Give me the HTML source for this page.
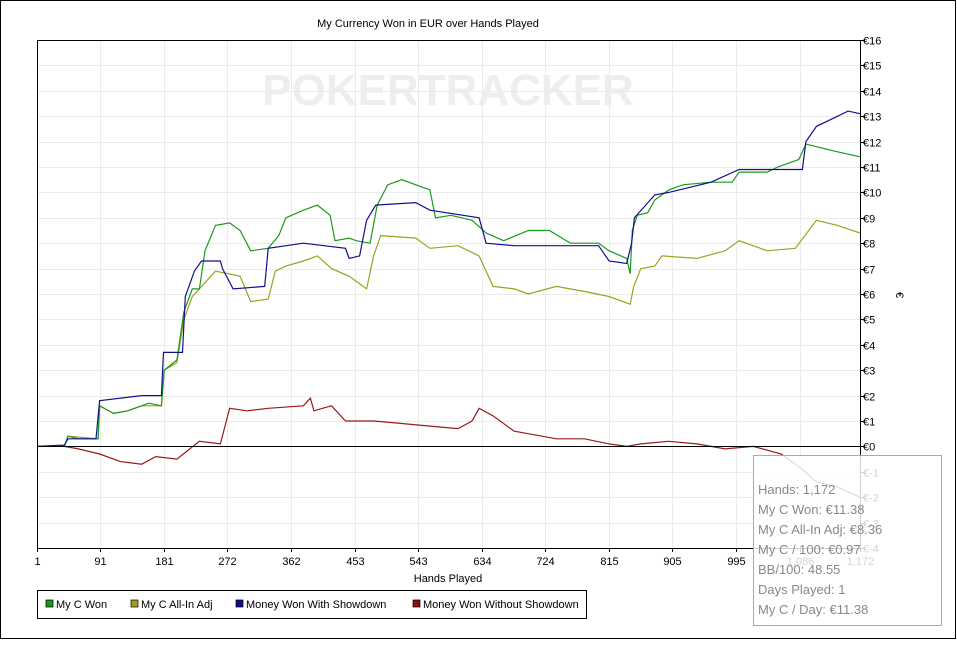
<!DOCTYPE html>
<html><head><meta charset="utf-8"><style>
body{margin:0;background:#fff;font-family:"Liberation Sans",sans-serif}
svg text{font-family:"Liberation Sans",sans-serif}
</style></head><body>
<svg id="c" width="957" height="640">
<rect x="0.5" y="0.5" width="955" height="638" fill="#fff" stroke="#000"/>
<text x="428" y="27" font-size="11" text-anchor="middle">My Currency Won in EUR over Hands Played</text>
<text x="448" y="105" font-size="44" fill="#eeeeee" text-anchor="middle" font-weight="bold">POKERTRACKER</text>
<g id="grid"></g><g id="series"></g><g id="axes"></g>
<rect x="37.5" y="40.5" width="823" height="508" fill="none" stroke="#000"/>
<text x="448" y="582" font-size="11" text-anchor="middle">Hands Played</text>
<text x="896" y="295" font-size="11" transform="rotate(90 896 295)" text-anchor="middle">€</text>
<g>
<rect x="37.5" y="590.5" width="549" height="28" fill="#fff" stroke="#000"/>
<rect x="46" y="600" width="7" height="7" fill="#1a9a1a" stroke="#000" stroke-width="0.7"/>
<text x="56" y="608" font-size="11">My C Won</text>
<rect x="131" y="600" width="7" height="7" fill="#a0a020" stroke="#000" stroke-width="0.7"/>
<text x="141" y="608" font-size="11">My C All-In Adj</text>
<rect x="236" y="600" width="7" height="7" fill="#10108f" stroke="#000" stroke-width="0.7"/>
<text x="246" y="608" font-size="11">Money Won With Showdown</text>
<rect x="413" y="600" width="7" height="7" fill="#8f1010" stroke="#000" stroke-width="0.7"/>
<text x="423" y="608" font-size="11">Money Won Without Showdown</text>
</g>
<g>
<rect x="753.5" y="455.5" width="188" height="170" fill="rgba(255,255,255,0.82)" stroke="#aaa"/>
<g font-size="13" fill="#888">
<text x="758" y="494">Hands: 1,172</text>
<text x="758" y="514">My C Won: €11.38</text>
<text x="758" y="534">My C All-In Adj: €8.36</text>
<text x="758" y="554">My C / 100: €0.97</text>
<text x="758" y="574">BB/100: 48.55</text>
<text x="758" y="594">Days Played: 1</text>
<text x="758" y="614">My C / Day: €11.38</text>
</g></g>
</svg>
<script>
const xTicks=[1,91,181,272,362,453,543,634,724,815,905,995,1086,1172];
const yTicks=[-4,-3,-2,-1,0,1,2,3,4,5,6,7,8,9,10,11,12,13,14,15,16];
const wonH=[1,40,45,60,88,90,110,130,150,160,178,182,200,210,222,232,240,255,275,290,305,330,345,355,380,400,418,425,445,455,475,485,500,520,540,560,568,590,620,640,665,700,730,760,800,815,840,845,848,855,870,880,900,920,960,990,1000,1040,1055,1085,1095,1110,1140,1172];
const wonV=[0,0,0.4,0.3,0.3,1.6,1.3,1.4,1.6,1.7,1.6,3.0,3.4,5.3,6.2,6.2,7.7,8.7,8.8,8.5,7.7,7.8,8.3,9.0,9.3,9.5,9.1,8.1,8.2,8.1,8.0,9.5,10.3,10.5,10.3,10.1,9.0,9.1,8.9,8.4,8.1,8.5,8.5,8.0,8.0,7.7,7.4,6.8,8.5,9.1,9.2,9.7,10.1,10.3,10.4,10.4,10.8,10.8,11.0,11.3,11.9,11.8,11.6,11.4];
const allinH=[1,40,45,88,90,110,130,150,178,182,200,210,222,232,245,255,290,305,330,340,355,380,400,420,445,470,480,490,540,560,600,630,650,680,700,740,780,815,845,850,860,880,890,940,980,1000,1040,1080,1110,1140,1172];
const allinV=[0,0,0.4,0.3,1.6,1.3,1.4,1.6,1.6,3.0,3.3,5.0,5.9,6.2,6.6,6.9,6.7,5.7,5.8,6.9,7.1,7.3,7.5,7.0,6.7,6.2,7.5,8.3,8.2,7.8,7.9,7.5,6.3,6.2,6.0,6.3,6.1,5.9,5.6,6.3,7.0,7.1,7.5,7.4,7.7,8.1,7.7,7.8,8.9,8.7,8.4];
const sdH=[1,40,45,85,90,150,178,181,208,212,225,235,262,265,280,325,330,380,440,445,460,470,483,540,560,630,640,680,800,815,840,847,851,880,900,960,1000,1090,1095,1110,1155,1172];
const sdV=[0,0.05,0.3,0.3,1.8,2.0,2.0,3.7,3.7,5.9,6.9,7.3,7.3,7.0,6.2,6.3,7.8,8.0,7.8,7.4,7.5,8.9,9.5,9.6,9.3,9.0,8.0,7.9,7.9,7.3,7.2,8.0,9.0,9.9,10.0,10.4,10.9,10.9,12.0,12.6,13.2,13.1];
const nsdH=[1,40,60,90,120,150,170,200,232,262,275,300,330,380,390,395,420,440,480,520,560,600,620,630,650,680,700,740,780,815,840,860,900,940,980,1020,1060,1090,1110,1140,1172];
const nsdV=[0,0,-0.1,-0.3,-0.6,-0.7,-0.4,-0.5,0.2,0.1,1.5,1.4,1.5,1.6,1.9,1.4,1.6,1.0,1.0,0.9,0.8,0.7,1.0,1.5,1.2,0.6,0.5,0.3,0.3,0.1,0.0,0.1,0.2,0.1,-0.1,0.0,-0.3,-0.9,-1.4,-1.6,-2.0];
const X0=37,X1=860,Y0=548,Y1=40,VMIN=-4,VMAX=16,HMIN=1,HMAX=1172;
const xs=h=>X0+(h-HMIN)/(HMAX-HMIN)*(X1-X0);
const ys=v=>Y0-(v-VMIN)/(VMAX-VMIN)*(Y0-Y1);
const NS="http://www.w3.org/2000/svg";
function mk(t,a,p){const e=document.createElementNS(NS,t);for(const k in a)e.setAttribute(k,a[k]);p.appendChild(e);return e;}
const grid=document.getElementById('grid'),axes=document.getElementById('axes'),ser=document.getElementById('series');
xTicks.forEach(t=>{const x=Math.round(xs(t))+0.5;
const g=mk('line',{x1:x,x2:x,y1:Y1,y2:Y0,stroke:'#ebebeb'},grid);


mk('line',{x1:x,x2:x,y1:Y0,y2:Y0+4,stroke:'#000'},axes);
const l=mk('text',{x:x,y:565,'font-size':11,'text-anchor':'middle'},axes);l.textContent=t.toLocaleString('en-US');

});
yTicks.forEach(t=>{const y=Math.round(ys(t))+0.5;
const g=mk('line',{x1:X0,x2:X1,y1:y,y2:y,stroke:'#ebebeb'},grid);


mk('line',{x1:X1,x2:X1+4,y1:y,y2:y,stroke:'#000'},axes);
const l=mk('text',{x:X1+3,y:y+4,'font-size':11},axes);l.textContent=t<0?'€-'+(-t):'€'+t;

});
const z=Math.round(ys(0))+0.5;
const zl=mk('line',{x1:X0,x2:X1,y1:z,y2:z,stroke:'#000'},axes);


function line(H,V,col,name){const pts=H.map((h,i)=>xs(h).toFixed(1)+','+ys(V[i]).toFixed(1)).join(' ');
const p=mk('polyline',{points:pts,fill:'none',stroke:col,'stroke-width':1.2},ser);

}
line(nsdH,nsdV,'#9a1a1a','series-no-showdown');
line(allinH,allinV,'#a0a020','series-allin-adj');
line(wonH,wonV,'#1a9a1a','series-won');
line(sdH,sdV,'#10108f','series-showdown');
</script>
</body></html>
